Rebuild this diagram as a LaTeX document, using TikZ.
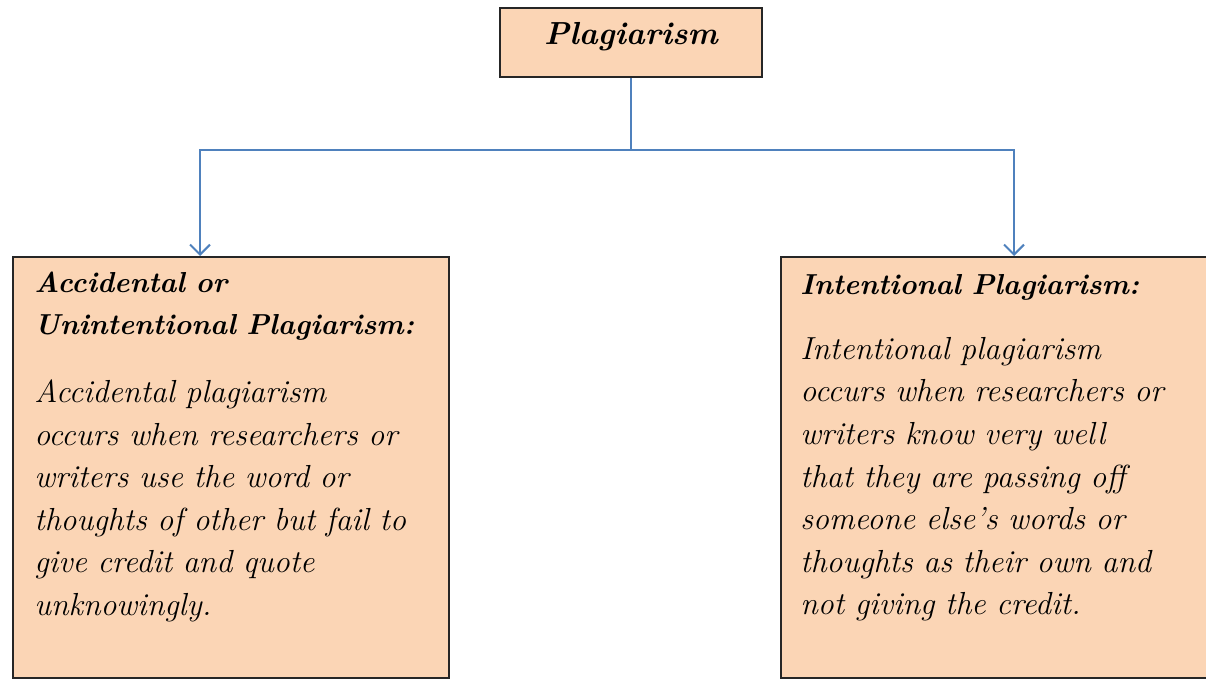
\documentclass[tikz,border=0pt]{standalone}
\usepackage{fontspec}
\usetikzlibrary{arrows.meta}
\definecolor{BoxColor}{RGB}{251,213,181}
\definecolor{EdgeColor}{RGB}{38,38,38}
\definecolor{LinkColor}{RGB}{79,129,189}
\tikzset{
  headbox/.style={draw=EdgeColor, fill=BoxColor, line width=1bp, minimum width=131bp, minimum height=34.5bp, text height=7.5bp, text depth=5.5bp, font=\fontsize{16}{20}\selectfont\bfseries\itshape},
  typebox/.style={draw=EdgeColor, fill=BoxColor, line width=1bp, minimum width=218bp, minimum height=210.5bp, anchor=north west},
  boxtext/.style={anchor=north west, inner sep=0pt, align=left, text width=210bp, font=\fontsize{16}{21.4}\selectfont\itshape}
}
\tikzset{link/.style={LinkColor, line width=1bp, -{Straight Barb[length=5bp, width=10bp]}}}
\begin{document}
\begin{tikzpicture}[x=0.5bp, y=-0.5bp]
  \useasboundingbox (0,0) rectangle (1206,678);
  \clip (0,0) rectangle (1206,678);

  % Top box
  \node[headbox] (plagiarism) at (631,42.5) {Plagiarism};

  % Two kinds
  \node[typebox] (accidental) at (12,256) {};
  \node[typebox] (intentional) at (780,256) {};

  \node[boxtext] (accidentaltext) at ([xshift=11bp, yshift=-8bp]accidental.north west)
    {{\fontsize{14.5}{21}\selectfont\bfseries Accidental or\\ Unintentional Plagiarism:\\[12.5bp]}
     Accidental plagiarism\\ occurs when researchers or\\ writers use the word or\\
     thoughts of other but fail to\\ give credit and quote\\ unknowingly.};
  \node[boxtext] (intentionaltext) at ([xshift=10bp, yshift=-9bp]intentional.north west)
    {{\fontsize{14.5}{21}\selectfont\bfseries Intentional Plagiarism:\\[11bp]}
     Intentional plagiarism\\ occurs when researchers or\\ writers know very well\\
     that they are passing off\\ someone else's words or\\ thoughts as their own and\\ not giving the credit.};

  % Connectors
  \coordinate (split) at (631,150);
  \draw[LinkColor, line width=1bp] (plagiarism.south) -- (split);
  \draw[link] (split) -| ([xshift=94bp]accidental.north west);
  \draw[link] (split) -| ([xshift=117bp]intentional.north west);
\end{tikzpicture}
\end{document}
